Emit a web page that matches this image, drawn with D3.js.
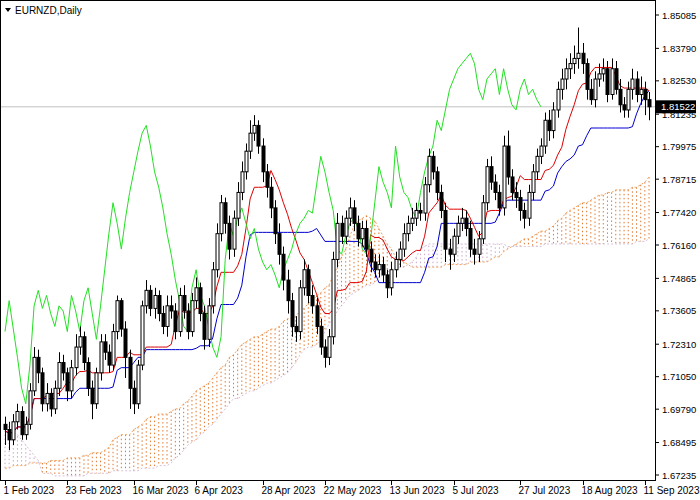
<!DOCTYPE html>
<html><head><meta charset="utf-8">
<script src="https://cdn.jsdelivr.net/npm/d3@7"></script>
<style>body{margin:0;background:#fff}svg{display:block}</style>
</head><body>
<svg id="c" width="700" height="500"></svg>
<script>
const closes=[1.690,1.686,1.693,1.697,1.688,1.692,1.705,1.718,1.712,1.700,
1.704,1.698,1.706,1.716,1.712,1.705,1.714,1.722,1.726,1.716,
1.706,1.700,1.712,1.724,1.720,1.715,1.728,1.740,1.729,1.718,
1.706,1.700,1.715,1.738,1.744,1.737,1.742,1.735,1.730,1.738,
1.736,1.728,1.742,1.736,1.728,1.740,1.745,1.735,1.725,1.738,
1.752,1.766,1.778,1.770,1.760,1.772,1.782,1.790,1.798,1.805,
1.808,1.800,1.790,1.784,1.776,1.766,1.758,1.748,1.740,1.730,
1.728,1.745,1.752,1.742,1.738,1.730,1.722,1.718,1.726,1.756,
1.770,1.765,1.772,1.776,1.770,1.764,1.768,1.760,1.755,1.752,
1.754,1.750,1.745,1.752,1.756,1.760,1.766,1.770,1.772,1.775,
1.774,1.785,1.796,1.790,1.782,1.775,1.760,1.758,1.765,1.770,
1.772,1.768,1.760,1.758,1.764,1.778,1.792,1.786,1.782,1.776,
1.800,1.788,1.782,1.780,1.775,1.772,1.782,1.790,1.796,1.800,
1.810,1.806,1.814,1.822,1.826,1.830,1.832,1.834,1.836,1.832,
1.822,1.818,1.826,1.828,1.830,1.820,1.830,1.822,1.816,1.814,
1.822,1.826,1.820,1.822,1.818,1.81522];
const firstOpen=1.692;
const highs=[1.695,1.693,1.696,1.700,1.699,1.695,1.708,1.722,1.721,1.714,
1.708,1.706,1.709,1.720,1.719,1.714,1.717,1.727,1.730,1.728,
1.718,1.709,1.714,1.727,1.727,1.723,1.731,1.742,1.741,1.732,
1.721,1.709,1.717,1.740,1.748,1.746,1.745,1.744,1.738,1.742,
1.742,1.739,1.745,1.746,1.739,1.743,1.749,1.747,1.738,1.741,
1.755,1.770,1.781,1.780,1.773,1.775,1.786,1.794,1.801,1.810,
1.812,1.810,1.803,1.793,1.788,1.779,1.770,1.761,1.752,1.743,
1.734,1.748,1.756,1.754,1.746,1.741,1.733,1.725,1.729,1.759,
1.774,1.773,1.775,1.780,1.779,1.773,1.771,1.771,1.763,1.758,
1.758,1.757,1.752,1.755,1.759,1.763,1.770,1.773,1.776,1.778,
1.778,1.788,1.799,1.798,1.792,1.785,1.778,1.764,1.768,1.773,
1.776,1.775,1.771,1.764,1.767,1.781,1.795,1.796,1.789,1.785,
1.804,1.806,1.791,1.786,1.783,1.778,1.785,1.793,1.799,1.803,
1.813,1.814,1.817,1.825,1.830,1.834,1.836,1.839,1.846,1.840,
1.834,1.826,1.829,1.832,1.834,1.833,1.834,1.833,1.826,1.819,
1.825,1.830,1.829,1.827,1.825,1.821];
const lows=[1.684,1.682,1.684,1.690,1.686,1.686,1.690,1.703,1.708,1.697,
1.697,1.695,1.696,1.703,1.709,1.701,1.702,1.711,1.719,1.713,
1.703,1.694,1.698,1.709,1.717,1.712,1.713,1.725,1.726,1.710,
1.698,1.696,1.698,1.713,1.735,1.734,1.733,1.732,1.727,1.726,
1.733,1.725,1.726,1.733,1.725,1.726,1.737,1.732,1.721,1.722,
1.735,1.749,1.763,1.766,1.756,1.757,1.769,1.779,1.787,1.795,
1.802,1.797,1.786,1.780,1.772,1.762,1.754,1.744,1.735,1.726,
1.724,1.725,1.742,1.739,1.735,1.727,1.719,1.714,1.715,1.723,
1.753,1.762,1.762,1.769,1.767,1.761,1.761,1.757,1.751,1.749,
1.749,1.747,1.741,1.742,1.749,1.753,1.757,1.763,1.767,1.769,
1.771,1.771,1.782,1.787,1.779,1.772,1.755,1.752,1.755,1.762,
1.767,1.765,1.757,1.754,1.755,1.762,1.775,1.783,1.779,1.773,
1.773,1.785,1.779,1.776,1.771,1.768,1.769,1.779,1.787,1.793,
1.797,1.802,1.803,1.811,1.818,1.822,1.826,1.828,1.830,1.828,
1.818,1.816,1.815,1.823,1.825,1.817,1.818,1.820,1.813,1.811,
1.811,1.818,1.817,1.816,1.812,1.810];
const spanA=[1.675,1.675,1.676,1.676,1.676,1.676,1.677,1.677,1.677,
1.677,1.677,1.678,1.678,1.678,1.678,1.679,1.679,1.679,
1.679,1.680,1.680,1.681,1.681,1.681,1.682,1.683,
1.686,1.687,1.688,1.688,1.688,1.690,1.691,1.692,1.694,1.695,
1.695,1.696,1.696,1.696,1.697,1.698,1.698,1.700,1.701,1.703,
1.705,1.706,1.707,1.708,1.710,1.712,1.714,1.715,1.718,1.719,
1.721,1.723,1.724,1.725,1.726,1.726,1.727,1.728,1.729,1.729,
1.730,1.732,1.733,1.733,1.734,1.736,1.737,1.739,1.740,1.742,
1.743,1.745,1.746,1.750,1.753,1.757,1.760,1.765,1.769,1.771,
1.772,1.773,1.772,1.771,1.768,1.765,1.762,1.760,1.757,1.756,
1.755,1.754,1.753,1.753,1.753,1.753,1.753,1.753,1.753,1.753,
1.754,1.754,1.754,1.754,1.754,1.754,1.755,1.755,1.755,1.755,
1.755,1.756,1.757,1.757,1.759,1.760,1.761,1.762,1.763,1.764,
1.764,1.765,1.766,1.767,1.767,1.768,1.769,1.771,1.772,1.774,
1.775,1.776,1.777,1.778,1.778,1.779,1.780,1.781,1.781,1.782,
1.782,1.783,1.783,1.783,1.783,1.784,1.784,1.785,1.786,1.788];
const spanB=[1.692,1.691,1.689,1.688,1.686,1.684,1.682,1.680,1.678,
1.673,1.673,1.673,1.672,1.672,1.672,1.672,1.672,1.672,1.672,1.672,1.673,1.673,1.673,1.673,1.673,1.673,
1.674,1.674,1.674,1.674,1.674,1.674,1.674,1.675,1.675,1.675,1.675,1.676,1.676,1.676,1.677,1.679,1.680,1.682,1.684,1.685,
1.686,1.688,1.689,1.691,1.692,1.694,1.696,1.698,1.700,1.702,1.702,1.703,1.704,1.705,1.705,1.706,1.707,1.708,1.708,1.709,
1.710,1.711,1.712,1.714,1.716,1.719,1.721,1.722,1.722,1.723,1.725,1.728,1.731,1.733,1.736,1.738,1.740,1.742,1.743,1.744,
1.745,1.746,1.746,1.747,1.749,1.750,1.751,1.752,1.753,1.753,
1.753,1.754,1.755,1.757,1.760,1.761,1.762,1.762,1.762,1.762,1.762,1.762,1.762,1.762,1.762,1.762,1.762,1.762,1.762,1.762,
1.762,1.762,1.762,1.762,1.762,1.761,1.761,1.761,1.761,1.761,
1.761,1.761,1.761,1.761,1.762,1.762,1.762,1.762,1.762,1.762,1.762,1.762,1.762,1.762,1.762,1.762,1.762,1.762,1.762,1.762,
1.762,1.762,1.762,1.762,1.762,1.762,1.763,1.763,1.763,1.764];
const priceTicks=[1.85085,1.83790,1.82530,1.81235,1.79975,1.78715,1.77420,1.76160,1.74865,1.73605,1.72310,1.71050,1.69790,1.68495,1.67235];
const dateIdx=[0,15,31,46,62,77,93,108,124,139,154];
const dateLabels=["1 Feb 2023","23 Feb 2023","16 Mar 2023","6 Apr 2023","28 Apr 2023","22 May 2023","13 Jun 2023","5 Jul 2023","27 Jul 2023","18 Aug 2023","11 Sep 2023"];
const lastPrice=1.81522;

const svg=d3.select("#c");
const n=closes.length;
const x=d3.scaleLinear().domain([0,n-1]).range([5,649]);
const y=d3.scaleLinear().domain([1.67235,1.85085]).range([475,15]);
const opens=closes.map((c,i)=>i?closes[i-1]:firstOpen);
const FONT="'Liberation Sans', Arial, sans-serif";

svg.append("rect").attr("x",0.5).attr("y",0.5).attr("width",655).attr("height",480).attr("fill","none").attr("stroke","#000");

const g=svg.append("g");
for(let i=0;i<n;i++){
  const a=spanA[i], b=spanB[i];
  g.append("line").attr("x1",x(i)).attr("x2",x(i)).attr("y1",y(a)).attr("y2",y(b))
   .attr("stroke",a>=b?"#E07830":"#C8A8C8").attr("stroke-width",1).attr("stroke-dasharray","1.5,2.5");
}
const line=arr=>d3.line().x((d,i)=>x(i)).y(d=>y(d))(arr);
svg.append("path").attr("d",line(spanA)).attr("fill","none").attr("stroke","#F4A460").attr("stroke-dasharray","2,2");
svg.append("path").attr("d",line(spanB)).attr("fill","none").attr("stroke","#D8BFD8").attr("stroke-dasharray","2,2");

svg.append("line").attr("x1",1).attr("x2",655).attr("y1",y(lastPrice)).attr("y2",y(lastPrice)).attr("stroke","#c0c0c0");

function mid(p){return highs.map((h,i)=>{const s=Math.max(0,i-p+1);return (d3.max(highs.slice(s,i+1))+d3.min(lows.slice(s,i+1)))/2;});}
svg.append("path").attr("d",line(mid(26))).attr("fill","none").attr("stroke","#0000CD").attr("stroke-width",1);
svg.append("path").attr("d",line(mid(9))).attr("fill","none").attr("stroke","#DC0000").attr("stroke-width",1);
const chik=d3.line().x((d,i)=>x(i)).y(d=>y(d))(closes.slice(26));
svg.append("path").attr("d",chik).attr("fill","none").attr("stroke","#22E022").attr("stroke-width",1);

const cg=svg.append("g");
closes.forEach((c,i)=>{
  const o=opens[i],cx=Math.round(x(i))+0.5;
  cg.append("line").attr("x1",cx).attr("x2",cx).attr("y1",y(highs[i])).attr("y2",y(lows[i])).attr("stroke","#000");
  const top=y(Math.max(o,c)),bot=y(Math.min(o,c));
  cg.append("rect").attr("x",cx-1.5).attr("y",top).attr("width",3).attr("height",Math.max(1,bot-top))
    .attr("fill",c>=o?"#fff":"#000").attr("stroke","#000").attr("stroke-width",1);
});

priceTicks.forEach(p=>{
  svg.append("line").attr("x1",655).attr("x2",659).attr("y1",y(p)).attr("y2",y(p)).attr("stroke","#000");
  svg.append("text").attr("x",662).attr("y",y(p)+3.5).text(p.toFixed(5)).attr("font-family",FONT).attr("font-size",9.5).attr("fill","#000");
});
svg.append("rect").attr("x",656).attr("y",y(lastPrice)-6.5).attr("width",40).attr("height",13).attr("fill","#000");
svg.append("text").attr("x",661).attr("y",y(lastPrice)+3.5).text(lastPrice.toFixed(5)).attr("font-family",FONT).attr("font-size",9.5).attr("fill","#fff");

dateIdx.forEach((d,k)=>{
  const xx=Math.round(x(d))+0.5;
  svg.append("line").attr("x1",xx).attr("x2",xx).attr("y1",480).attr("y2",485).attr("stroke","#000");
  svg.append("text").attr("x",xx-2).attr("y",494).text(dateLabels[k]).attr("font-family",FONT).attr("font-size",10).attr("fill","#000");
});

svg.append("path").attr("d","M5,8 L11,8 L8,12 Z").attr("fill","#000");
svg.append("text").attr("x",15).attr("y",14).text("EURNZD,Daily").attr("font-family",FONT).attr("font-size",10).attr("fill","#000");
</script>
</body></html>
